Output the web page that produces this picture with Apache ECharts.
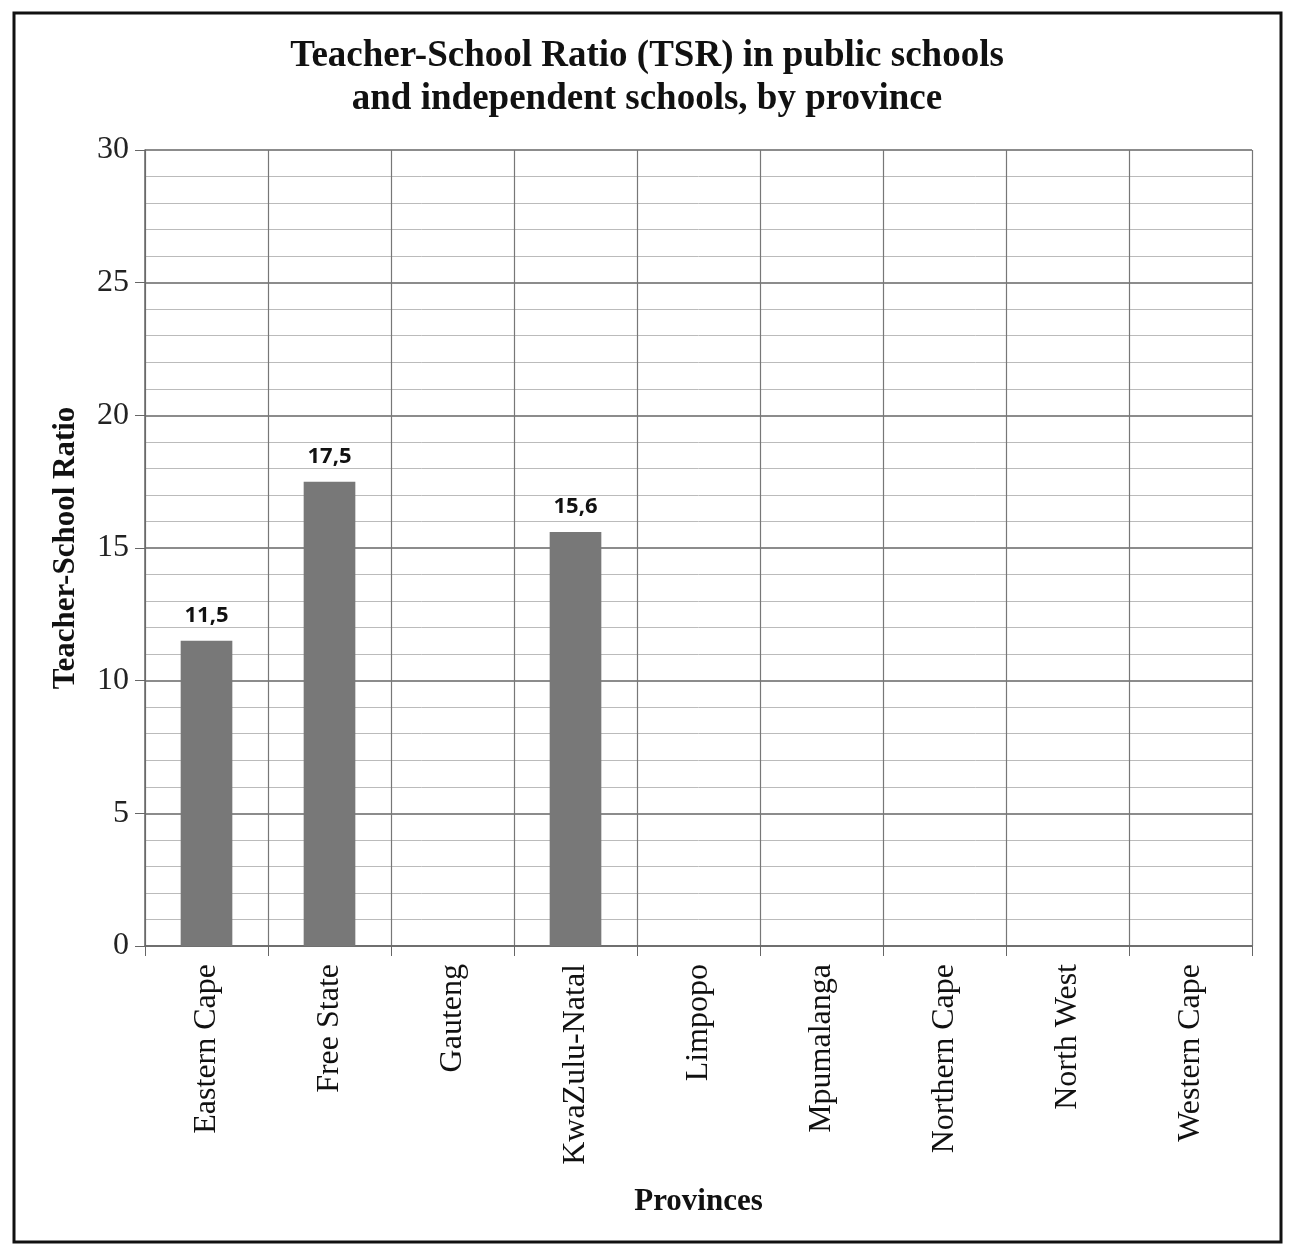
<!DOCTYPE html>
<html>
<head>
<meta charset="utf-8">
<script src="https://cdn.jsdelivr.net/npm/echarts@6/dist/echarts.min.js"></script>
<style>
  html, body { margin: 0; padding: 0; background: #fff; }
  #chart { width: 1294px; height: 1246px; }
</style>
</head>
<body>
<div id="chart"></div>
<script>
// provinces on the x axis
var provinces = ['Eastern Cape', 'Free State', 'Gauteng', 'KwaZulu-Natal', 'Limpopo',
  'Mpumalanga', 'Northern Cape', 'North West', 'Western Cape'];
// TSR values, null where there is no bar
var tsrValues = [11.5, 17.5, null, 15.6, null, null, null, null, null];
var yTicks = [0, 5, 10, 15, 20, 25, 30];

var serif = '"Liberation Serif", "Times New Roman", serif';

var myChart = echarts.init(document.getElementById('chart'));

var option = {
  backgroundColor: '#fff',
  animation: false,
  title: {
    text: 'Teacher-School Ratio (TSR) in public schools\nand independent schools, by province',
    left: 'center',
    top: 30,
    textStyle: {
      fontFamily: serif,
      fontWeight: 'bold',
      fontSize: 37,
      lineHeight: 43,
      color: '#111'
    }
  },
  grid: { left: 145, right: 42, top: 150, bottom: 300 },
  xAxis: {
    type: 'category',
    data: provinces,
    name: 'Provinces',
    nameLocation: 'middle',
    nameGap: 240,
    nameTextStyle: { fontFamily: serif, fontWeight: 'bold', fontSize: 31, color: '#111' },
    axisLine: { lineStyle: { color: '#666', width: 1.5 } },
    axisTick: { show: true, length: 10, lineStyle: { color: '#666' } },
    axisLabel: {
      rotate: 90,
      margin: 18,
      fontFamily: serif,
      fontSize: 32,
      color: '#111'
    },
    splitLine: { show: true, lineStyle: { color: '#777', width: 1.2 } }
  },
  yAxis: {
    type: 'value',
    min: yTicks[0],
    max: yTicks[yTicks.length - 1],
    interval: 5,
    name: 'Teacher-School Ratio',
    nameLocation: 'middle',
    nameGap: 64,
    nameTextStyle: { fontFamily: serif, fontWeight: 'bold', fontSize: 31, color: '#111' },
    axisLine: { show: true, lineStyle: { color: '#666', width: 1.5 } },
    axisTick: { show: true, length: 10, lineStyle: { color: '#666' } },
    axisLabel: {
      margin: 16,
      fontFamily: serif,
      fontSize: 32,
      color: '#222'
    },
    splitLine: { show: true, lineStyle: { color: '#666', width: 1.5 } },
    minorTick: { show: false, splitNumber: 5 },
    minorSplitLine: { show: true, lineStyle: { color: '#bbb', width: 1 } }
  },
  series: [{
    type: 'bar',
    data: tsrValues,
    barWidth: '42%',
    itemStyle: { color: '#787878' },
    label: {
      show: true,
      position: 'top',
      distance: 14,
      fontFamily: '"Open Sans", sans-serif',
      fontWeight: 'bold',
      fontSize: 22,
      color: '#111',
      formatter: function (p) {
        return p.value == null ? '' : String(p.value.toFixed(1)).replace('.', ',');
      }
    }
  }],
  graphic: [{
    type: 'rect',
    shape: { x: 14, y: 13, width: 1267, height: 1229 },
    style: { fill: null, stroke: '#111', lineWidth: 3 },
    silent: true
  }]
};

myChart.setOption(option);
</script>
</body>
</html>
